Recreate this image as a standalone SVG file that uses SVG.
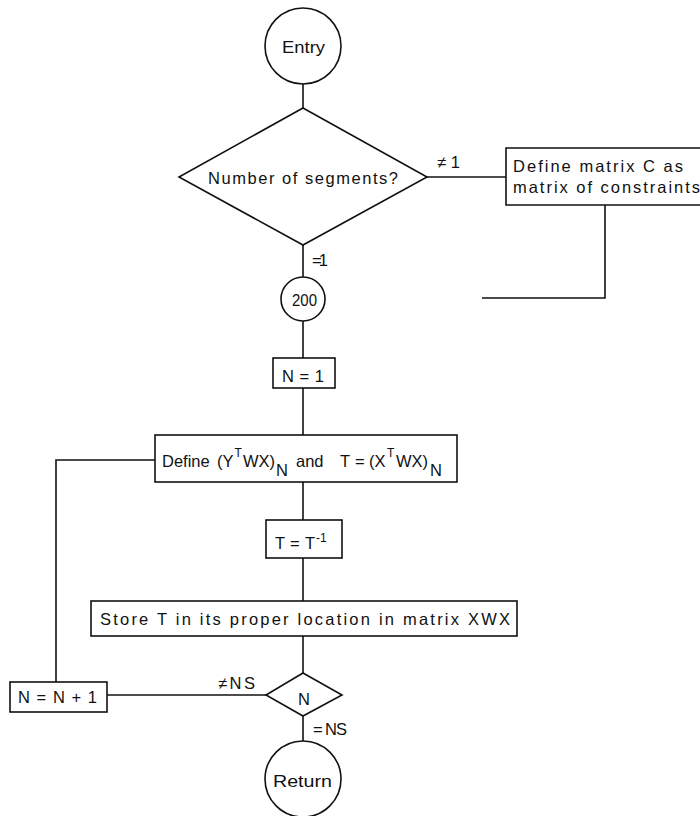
<svg xmlns="http://www.w3.org/2000/svg" width="700" height="816" viewBox="0 0 700 816">
<style>
.s{fill:none;stroke:#111;stroke-width:1.6}
.n{fill:#fff;stroke:#111;stroke-width:1.6}
text{font-family:"Liberation Sans",Arial,sans-serif;fill:#111;font-size:16.5px}
.c{text-anchor:middle}
.sm{font-size:12px}
</style>
<rect width="700" height="816" fill="#fff"/>
<g id="connectors" class="s">
<path d="M303 84V108"/>
<path d="M427 177H506"/>
<path d="M605 205V298H482"/>
<path d="M303 245V277"/>
<path d="M303 321V358"/>
<path d="M303 388V435"/>
<path d="M303 482V520"/>
<path d="M303 558V601"/>
<path d="M303 636V673"/>
<path d="M303 716V742"/>
<path d="M155 460H56V682"/>
<path d="M107 695H266"/>
</g>
<g id="entry"><circle class="n" cx="303" cy="46" r="38"/><text class="c" x="303.5" y="53" font-size="17.5" textLength="43" lengthAdjust="spacingAndGlyphs">Entry</text></g>
<g id="segments"><path class="n" d="M303 108L427 177L303 245L179 177Z"/><text x="208" y="184" textLength="190" lengthAdjust="spacing">Number of segments?</text></g>
<g id="label-ne1"><text x="437" y="168" textLength="23" lengthAdjust="spacing">≠1</text></g>
<g id="define-c"><path class="s" d="M710 148H506V205H710"/><text x="513" y="172" textLength="170" lengthAdjust="spacing">Define matrix C as</text><text x="513" y="193" textLength="187" lengthAdjust="spacing">matrix of constraints</text></g>
<g id="label-eq1"><text x="312" y="266" textLength="16" lengthAdjust="spacing">=1</text></g>
<g id="c200"><circle class="n" cx="303" cy="299" r="22"/><text x="292" y="306" font-size="17" textLength="25" lengthAdjust="spacingAndGlyphs">200</text></g>
<g id="n-init"><rect class="n" x="273" y="358" width="62" height="30"/><text x="282" y="382" textLength="42" lengthAdjust="spacing">N = 1</text></g>
<g id="define-yt"><rect class="n" x="155" y="435" width="302" height="47"/>
<text y="467"><tspan x="162">Define</tspan><tspan x="217">(Y</tspan><tspan x="234.5" y="457" class="sm">T</tspan><tspan x="243" y="467">WX)</tspan><tspan x="276" y="476">N</tspan><tspan x="296" y="467">and</tspan><tspan x="340">T</tspan><tspan x="355">=</tspan><tspan x="369">(X</tspan><tspan x="387" y="457" class="sm">T</tspan><tspan x="396" y="467">WX)</tspan><tspan x="430" y="476">N</tspan></text></g>
<g id="invert"><rect class="n" x="266" y="520" width="76" height="38"/><text y="549"><tspan x="275">T</tspan><tspan x="290">=</tspan><tspan x="305">T</tspan><tspan x="316" y="542" class="sm" font-size="14">-1</tspan></text></g>
<g id="store"><rect class="n" x="91" y="601" width="426" height="35"/><text x="100" y="625" textLength="410" lengthAdjust="spacing">Store T in its proper location in matrix XWX</text></g>
<g id="check-n"><path class="n" d="M303 673L342 695L303 716L266 695Z"/><text class="c" x="304" y="705">N</text></g>
<g id="label-nens"><text x="218" y="689" textLength="37" lengthAdjust="spacing">≠NS</text></g>
<g id="label-eqns"><text x="313" y="735" textLength="34" lengthAdjust="spacing">= NS</text></g>
<g id="increment"><rect class="n" x="10" y="682" width="97" height="30"/><text x="18" y="703" textLength="79" lengthAdjust="spacing">N = N + 1</text></g>
<g id="return"><circle class="n" cx="303" cy="779" r="38"/><text x="273" y="787" font-size="17" textLength="59" lengthAdjust="spacingAndGlyphs">Return</text></g>
</svg>
